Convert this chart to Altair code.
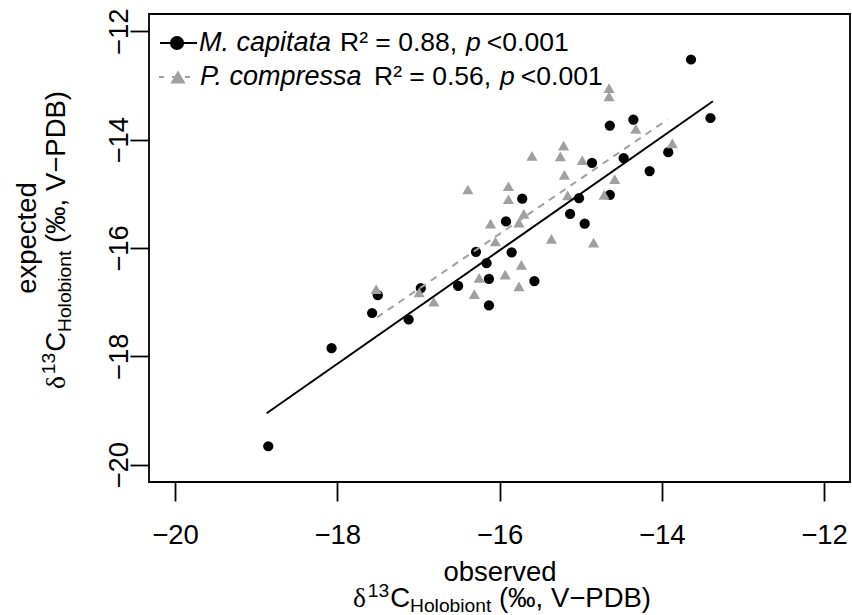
import altair as alt
import pandas as pd

# ---------------- data ----------------
mc_obs = [-13.64, -13.40, -14.64, -14.35, -14.47, -14.86, -13.92, -14.15, -14.64,
          -15.02, -15.72, -15.13, -14.95, -15.92, -16.29, -15.85, -16.16, -16.13,
          -15.57, -16.51, -16.13, -16.97, -17.50, -17.57, -17.12, -18.07, -18.85]
mc_exp = [-12.52, -13.60, -13.74, -13.63, -14.34, -14.43, -14.23, -14.58, -15.02,
          -15.08, -15.09, -15.37, -15.55, -15.51, -16.07, -16.08, -16.28, -16.57,
          -16.61, -16.70, -17.06, -16.74, -16.87, -17.20, -17.32, -17.85, -19.66]

pc_obs = [-14.65, -14.65, -14.32, -13.87, -15.21, -15.60, -15.25, -14.98, -15.20,
          -14.58, -16.39, -15.89, -15.89, -15.16, -14.71, -15.70, -16.11, -15.76,
          -16.05, -15.36, -14.84, -15.73, -16.25, -15.93, -15.76, -17.52, -16.99,
          -16.81, -16.31]
pc_exp = [-13.05, -13.20, -13.80, -14.07, -14.11, -14.30, -14.31, -14.38, -14.65,
          -14.73, -14.92, -14.86, -15.10, -15.03, -15.02, -15.37, -15.55, -15.53,
          -15.88, -15.83, -15.90, -16.31, -16.55, -16.49, -16.71, -16.76, -16.82,
          -16.99, -16.85]

mc_fit_obs = [-18.87, -13.37]
mc_fit_exp = [-19.05, -13.29]
pc_fit_obs = [-17.51, -13.93]
pc_fit_exp = [-17.28, -13.63]

tick_values = [-20, -18, -16, -14, -12]
species = ["M. capitata", "P. compressa"]
r2_labels = ["R\u00b2 = 0.88,", "R\u00b2 = 0.56,"]
p_values = ["<0.001", "<0.001"]
x_title = ["observed", "\u03b4", "13", "C", "Holobiont", "(\u2030, V\u2212PDB)"]
y_title = ["expected", "\u03b4", "13", "C", "Holobiont", "(\u2030, V\u2212PDB)"]

# ---------------- layout / style ----------------
DOMAIN = [-20.32, -11.68]
W, H = 701, 468
LEFT, TOP = 149, 14
FONT = "Liberation Sans"
SERIF = "Liberation Serif"
FS = 27.5
FS_LEG = 27
FS_STAT = 26.5
SUB = FS * 0.7
GRAY = "#A0A0A0"
LW = 1.8

WIDTHS = {'1': 0.556, '3': 0.556, 'C': 0.722, 'H': 0.722, 'o': 0.556, 'l': 0.222,
          'b': 0.556, 'i': 0.222, 'n': 0.556, 't': 0.278, ' ': 0.278, '(': 0.333,
          ')': 0.333, '\u2030': 1.0, ',': 0.278, 'V': 0.667, '\u2212': 0.584,
          'P': 0.667, 'D': 0.722, 'B': 0.667, '\u03b4': 0.5, 'R': 0.722,
          '\u00b2': 0.333, '=': 0.584, '.': 0.278, '0': 0.556, '5': 0.556,
          '6': 0.556, '8': 0.556, '<': 0.584, 'p': 0.556}


def tw(s, size):
    return sum(WIDTHS.get(c, 0.556) for c in s) * size


xs = alt.Scale(domain=DOMAIN, nice=False, zero=False)
ys = alt.Scale(domain=DOMAIN, nice=False, zero=False)

mc = pd.DataFrame({"obs": mc_obs, "exp": mc_exp})
pc = pd.DataFrame({"obs": pc_obs, "exp": pc_exp})
mcf = pd.DataFrame({"obs": mc_fit_obs, "exp": mc_fit_exp})
pcf = pd.DataFrame({"obs": pc_fit_obs, "exp": pc_fit_exp})

x_axis = alt.Axis(values=tick_values, title=None, labelPadding=20, labelFlush=False,
                  labelOverlap=False, labelBaseline="top")
y_axis = alt.Axis(values=tick_values, title=None, labelAngle=270, labelAlign="center",
                  labelBaseline="alphabetic", labelPadding=3, labelFlush=False,
                  labelOverlap=False)

X = alt.X("obs:Q", scale=xs, axis=x_axis)
Y = alt.Y("exp:Q", scale=ys, axis=y_axis)

circles = alt.Chart(mc).mark_point(filled=True, shape="circle", size=105, color="black",
                                   opacity=1).encode(x=X, y=Y)
triangles = alt.Chart(pc).mark_point(filled=True, shape="triangle-up", size=125, color=GRAY,
                                     opacity=1).encode(x=X, y=Y)
mc_line = alt.Chart(mcf).mark_line(color="black", strokeWidth=2).encode(x=X, y=Y)
pc_line = alt.Chart(pcf).mark_line(color=GRAY, strokeWidth=2, strokeDash=[7, 6]).encode(x=X, y=Y)


def txt(s, x, y, size=FS, style="normal", font=FONT, align="left",
        baseline="alphabetic", angle=0, color="black"):
    return alt.Chart(pd.DataFrame({"t": [s]})).mark_text(
        align=align, baseline=baseline, fontSize=size, font=font, fontStyle=style,
        angle=angle, color=color,
    ).encode(x=alt.value(x - LEFT), y=alt.value(y - TOP), text="t:N")


layers = [circles, triangles, mc_line, pc_line]

# ---- legend ----
rows_y = [43, 77]
leg_line1 = alt.Chart(pd.DataFrame({"s": [species[0]]})).mark_rule(
    color="black", strokeWidth=2).encode(
    x=alt.value(160 - LEFT), x2=alt.value(197 - LEFT), y=alt.value(rows_y[0] - TOP))
leg_line2 = alt.Chart(pd.DataFrame({"s": [species[1]]})).mark_rule(
    color=GRAY, strokeWidth=2, strokeDash=[5, 8]).encode(
    x=alt.value(159 - LEFT), x2=alt.value(198 - LEFT), y=alt.value(rows_y[1] - TOP))
leg_pt1 = alt.Chart(pd.DataFrame({"s": [species[0]]})).mark_point(
    filled=True, shape="circle", size=200, color="black", opacity=1).encode(
    x=alt.value(177 - LEFT), y=alt.value(rows_y[0] - TOP))
leg_pt2 = alt.Chart(pd.DataFrame({"s": [species[1]]})).mark_point(
    filled=True, shape="triangle-up", size=230, color=GRAY, opacity=1).encode(
    x=alt.value(178 - LEFT), y=alt.value(rows_y[1] - TOP))
layers += [leg_line1, leg_line2, leg_pt1, leg_pt2]

name_x = [199, 200]
r2_x = [340, 374]
for i in range(2):
    yy = rows_y[i] + 8
    layers.append(txt(species[i], name_x[i], yy, size=FS_LEG, style="italic"))
    layers.append(txt(r2_labels[i], r2_x[i], yy, size=FS_STAT))
    px = r2_x[i] + tw(r2_labels[i], FS_STAT) + 9
    layers.append(txt("p", px, yy, size=FS_STAT, style="italic"))
    layers.append(txt(p_values[i], px + tw("p", FS_STAT) + 6, yy, size=FS_STAT))

# ---- x axis title ----
layers.append(txt(x_title[0], 500, 581, align="center"))
pieces = [(x_title[1], FS, SERIF, 0, 1), (x_title[2], SUB, FONT, -10, 1),
          (x_title[3], FS, FONT, 0, 0), (x_title[4], SUB, FONT, 5, 0.278 * FS),
          (x_title[5], FS, FONT, 0, 0)]
total = sum(tw(p[0], p[1]) + p[4] for p in pieces)
cur = 502 - total / 2
base = 607
for s, size, font, dy, gap in pieces:
    layers.append(txt(s, cur, base + dy, size=size, font=font))
    cur += tw(s, size) + gap

# ---- y axis title (rotated) ----
layers.append(txt(y_title[0], 36, 238, align="center", angle=270))
cur = 240 + total / 2
basex = 65
for s, size, font, dy, gap in [(y_title[1], FS, SERIF, 0, 1), (y_title[2], SUB, FONT, -10, 1),
                               (y_title[3], FS, FONT, 0, 0),
                               (y_title[4], SUB, FONT, 6, 0.278 * FS),
                               (y_title[5], FS, FONT, 0, 0)]:
    layers.append(txt(s, basex + dy, cur, size=size, font=font, angle=270))
    cur -= tw(s, size) + gap

chart = alt.layer(*layers).properties(
    width=W, height=H,
    autosize=alt.AutoSizeParams(type="none"),
    padding={"left": LEFT, "top": TOP, "right": 852 - LEFT - W, "bottom": 615 - TOP - H},
    background="white",
).configure_view(
    stroke="black", strokeWidth=LW, fill="white"
).configure_axis(
    domain=False, grid=False, ticks=True, tickSize=19, tickWidth=LW, tickColor="black",
    labelFont=FONT, labelFontSize=FS, labelColor="black",
)

chart.save("out.html", embed_options={"renderer": "svg", "actions": False})
